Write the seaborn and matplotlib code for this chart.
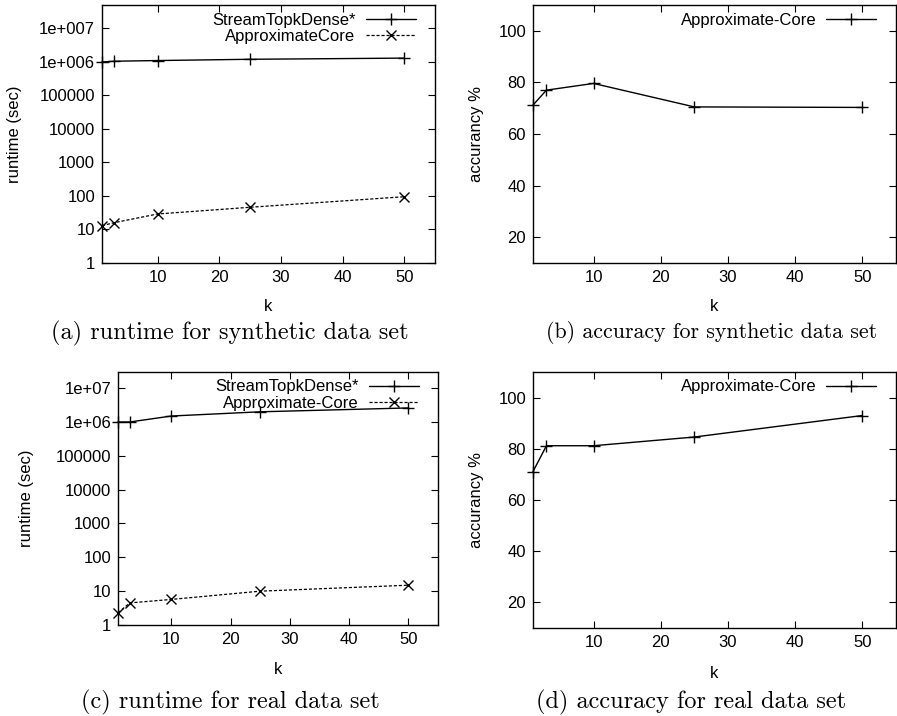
"""
Runtime / accuracy comparison — four gnuplot-style panels.
"""

import numpy as np
import pandas as pd
import matplotlib.pyplot as plt
import matplotlib.ticker as mticker
import seaborn as sns

# ── dados ───────────────────────────────────────────────
k_vals = [1, 3, 10, 25, 50]

syn_stream = [1.0e6, 1.05e6, 1.1e6, 1.2e6, 1.3e6]
syn_approx = [13, 16, 29, 46, 95]
syn_acc = [71.2, 77.0, 79.6, 70.5, 70.3]

real_stream = [1.0e6, 1.0e6, 1.5e6, 2.0e6, 2.6e6]
real_approx = [2.3, 4.5, 5.7, 10.0, 15.0]
real_acc = [71.1, 81.2, 81.2, 84.6, 93.0]

log_ticks = [1, 10, 100, 1000, 1e4, 1e5, 1e6, 1e7]
log_labels_a = ["1", "10", "100", "1000", "10000", "100000", "1e+006", "1e+007"]
log_labels_c = ["1", "10", "100", "1000", "10000", "100000", "1e+06", "1e+07"]
acc_ticks = [20, 40, 60, 80, 100]
k_ticks = [10, 20, 30, 40, 50]

captions = [
    "(a) runtime for synthetic data set",
    "(b) accuracy for synthetic data set",
    "(c) runtime for real data set",
    "(d) accuracy for real data set",
]

sns.set_style("ticks")
plt.rcParams.update({
    "font.family": ["Liberation Sans", "DejaVu Sans"],
    "font.size": 12,
    "text.color": "black",
    "axes.labelcolor": "black",
    "xtick.color": "black",
    "ytick.color": "black",
})

FS = 12
W, H = 897, 716
fig = plt.figure(figsize=(W / 100, H / 100), dpi=100)


def box(l, t, r, b):
    return fig.add_axes([l / W, 1 - b / H, (r - l) / W, (b - t) / H])


ax_a = box(102, 5, 435, 263)
ax_b = box(533, 5, 896, 263)
ax_c = box(118, 372, 438, 625)
ax_d = box(533, 372, 896, 628)

MK = dict(color="black", markeredgecolor="black", markerfacecolor="none",
          markeredgewidth=1.0, clip_on=False)


def estilo(ax, ypad, xpad):
    for s in ax.spines.values():
        s.set_linewidth(1.0)
        s.set_color("black")
    ax.tick_params(direction="in", top=True, right=True, length=5,
                   width=0.8, labelsize=FS, which="major", pad=5)
    ax.tick_params(which="minor", length=0)
    ax.set_xlim(1, 55)
    ax.set_xticks(k_ticks)
    ax.set_xlabel("k", fontsize=FS, labelpad=xpad)
    ax.yaxis.labelpad = ypad


def legenda(ax, width_px):
    ax.legend(loc="upper right", bbox_to_anchor=(1 - 12 / width_px, 1.0),
              frameon=False, markerfirst=False,
              handlelength=3.0, borderaxespad=0.05, labelspacing=0.1,
              handletextpad=0.6, fontsize=FS)


def runtime_panel(ax, stream, approx, approx_name, labels, ytop, ypad, xpad, wpx):
    df = pd.DataFrame({"k": k_vals, "stream": stream, "approx": approx})
    sns.lineplot(data=df, x="k", y="stream", ax=ax, marker="+",
                 markersize=8, linewidth=1.0, label="StreamTopkDense*", **MK)
    sns.lineplot(data=df, x="k", y="approx", ax=ax, marker="x",
                 markersize=6.5, linewidth=0.9, linestyle=(0, (2.5, 1.5)),
                 label=approx_name, **MK)
    ax.set_yscale("log")
    ax.set_ylim(1, ytop)
    ax.yaxis.set_major_locator(mticker.FixedLocator(log_ticks))
    ax.yaxis.set_major_formatter(mticker.FixedFormatter(labels))
    ax.yaxis.set_minor_locator(mticker.NullLocator())
    ax.set_ylabel("runtime (sec)", fontsize=FS)
    estilo(ax, ypad, xpad)
    legenda(ax, wpx)


def acc_panel(ax, acc, ypad, xpad, wpx):
    df = pd.DataFrame({"k": k_vals, "acc": acc})
    sns.lineplot(data=df, x="k", y="acc", ax=ax, marker="+", markersize=8,
                 linewidth=1.0, label="Approximate-Core", **MK)
    ax.set_ylim(10, 110)
    ax.set_yticks(acc_ticks)
    ax.set_ylabel("accurancy %", fontsize=FS)
    estilo(ax, ypad, xpad)
    legenda(ax, wpx)


runtime_panel(ax_a, syn_stream, syn_approx, "ApproximateCore", log_labels_a,
              5e7, 12.6, 10, 333)
acc_panel(ax_b, syn_acc, 10.5, 10, 363)
runtime_panel(ax_c, real_stream, real_approx, "Approximate-Core", log_labels_c,
              3e7, 15.5, 11, 320)
acc_panel(ax_d, real_acc, 10.5, 11.5, 363)

# legendas das figuras
cap_pos = [(230, 333), (712, 333), (230, 702), (691, 702)]
cap_size = [17.5, 15.8, 17.5, 17.5]
for txt, (cx, cy), fs in zip(captions, cap_pos, cap_size):
    fig.text(cx / W, 1 - cy / H, txt, ha="center", va="center",
             fontsize=fs, family=["cmr10", "DejaVu Serif"])

fig.savefig("out.png", dpi=100)
